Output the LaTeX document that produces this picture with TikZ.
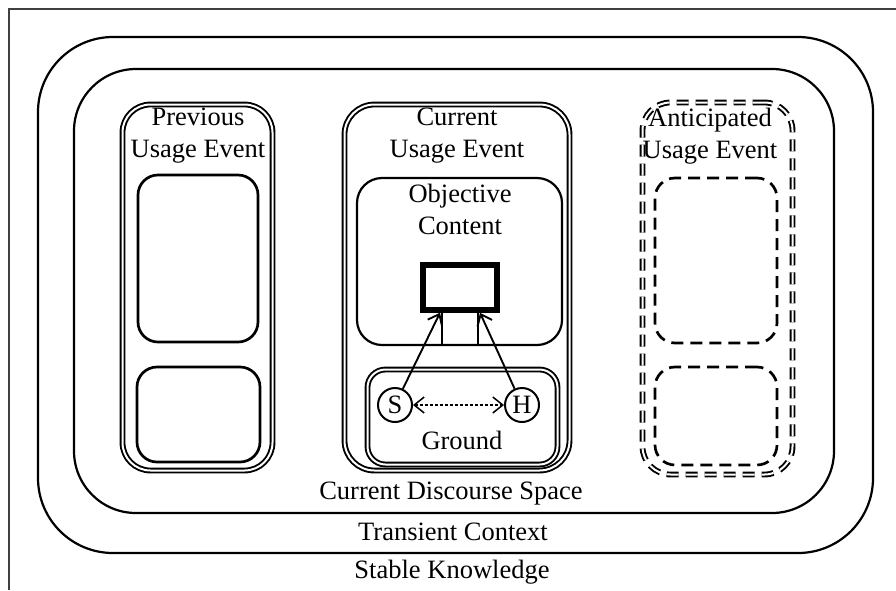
\documentclass[tikz,border=0pt]{standalone}
\usepackage{fontspec}
\setmainfont{Liberation Serif}
\usetikzlibrary{arrows.meta}
\begin{document}
\begin{tikzpicture}[x=1pt,y=-1pt,
  box/.style={draw, line width=2.2pt, rounded corners=#1, inner sep=0pt},
  box/.default=20pt,
  dbox/.style={draw, line width=1.9pt, double=white, double distance=2pt, rounded corners=#1, inner sep=0pt},
  dbox/.default=28pt,
  subbox/.style={draw, line width=2.7pt, rounded corners=20pt, inner sep=0pt},
  longdash/.style={dash pattern=on 12pt off 7pt},
  lbl/.style={font=\fontsize{26.5}{32}\selectfont, align=center, inner sep=0pt},
  person/.style={circle, draw, line width=2pt, minimum size=34pt, inner sep=0pt, font=\fontsize{26.5}{32}\selectfont},
  link/.style={line width=1.9pt},
  barb/.style={-{Straight Barb[length=10pt,width=16pt]}},
]
\useasboundingbox (0,0) rectangle (896,590);
% outer frame (cropped)
\draw[line width=2pt, black!75] (9,590) -- (9,9) -- (896,9);

% stable knowledge / transient context
\node[box=75pt, minimum width=835pt, minimum height=516pt] (stable) at (455.5,295) {};
\node[box=62pt, minimum width=760pt, minimum height=444pt] (transient) at (454,291) {};

% previous usage event
\node[dbox=28pt, minimum width=150pt, minimum height=366pt] (prev) at (197.5,287.5) {};
\node[subbox, minimum width=120pt, minimum height=167pt] (prevup) at (198,258.5) {};
\node[subbox, minimum width=123pt, minimum height=95pt] (prevlo) at (198.5,414.5) {};
\node[lbl] (prevlbl) at (198,136) {Previous\\Usage Event};

% current usage event
\node[dbox=30pt, minimum width=225pt, minimum height=366pt] (cur) at (457,287.5) {};
\node[lbl] (curlbl) at (457,136) {Current\\Usage Event};
\node[box=25pt, minimum width=205pt, minimum height=167pt] (obj) at (459.5,261.5) {};
\node[lbl] (objlbl) at (460,209) {Objective\\Content};
\node[draw, line width=5.5pt, minimum width=74pt, minimum height=45pt, inner sep=0pt] (thick) at (460,287.5) {};
\node[dbox=18pt, minimum width=190pt, minimum height=95pt] (ground) at (462.5,417) {};
\node[lbl] (groundlbl) at (462,440) {Ground};
\node[person] (S) at (395,405) {S};
\node[person] (H) at (522,405) {H};

\draw[link] ([xshift=-18pt]thick.south) -- ([xshift=-18pt]thick.south |- obj.south);
\draw[link] ([xshift=18pt]thick.south) -- ([xshift=18pt]thick.south |- obj.south);
\draw[link, barb] (S) -- ([xshift=-20pt]thick.south);
\draw[link, barb] (H) -- ([xshift=20pt]thick.south);
\draw[line width=1.5pt, dash pattern=on 3pt off 2pt, {Straight Barb[length=10pt,width=16pt]}-{Straight Barb[length=10pt,width=16pt]}] (S) -- (H);

% anticipated usage event
\node[dbox=28pt, longdash, minimum width=150pt, minimum height=372pt] (ant) at (717.5,288.5) {};
\node[subbox, longdash, minimum width=122pt, minimum height=165pt] (antup) at (716,260.5) {};
\node[subbox, longdash, minimum width=122pt, minimum height=98pt] (antlo) at (716,416) {};
\node[lbl] (antlbl) at (710,136) {Anticipated\\Usage Event};

% bottom labels
\node[lbl] (cds) at (451,494) {Current Discourse Space};
\node[lbl] (tc) at (453,532) {Transient Context};
\node[lbl] (sk) at (452,572) {Stable Knowledge};
\end{tikzpicture}
\end{document}
